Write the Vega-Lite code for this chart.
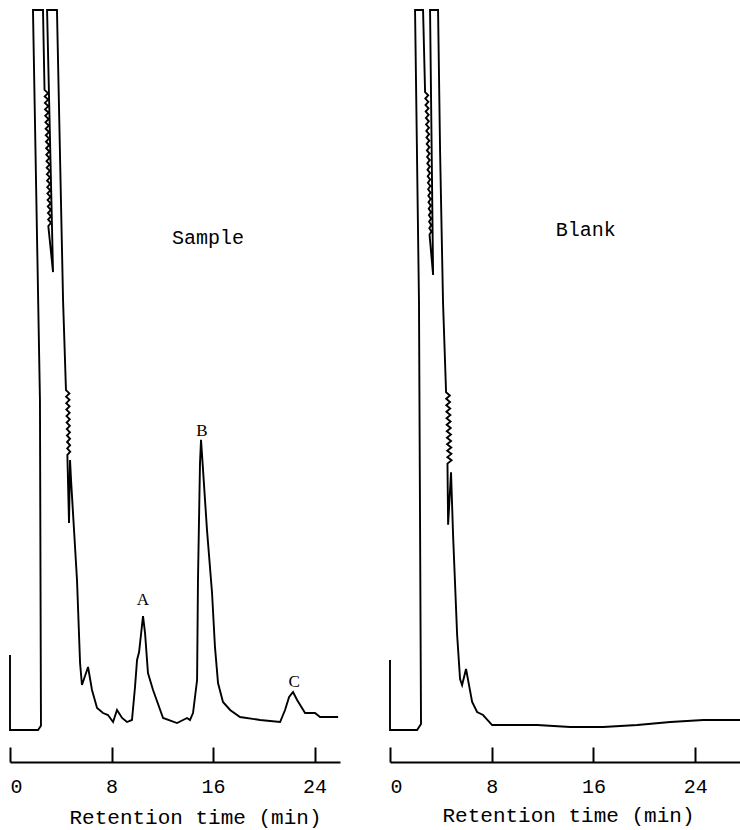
{
  "$schema": "https://vega.github.io/schema/vega-lite/v6.json",
  "padding": {"left": 6, "top": 6, "right": 0, "bottom": 4},
  "background": "white",
  "config": {
    "view": {"stroke": null},
    "axis": {"grid": false},
    "font": "Liberation Mono"
  },
  "datasets": {
    "sample": [
      {"t":0,"s":10.4},{"t":0,"s":0},{"t":2.21,"s":0},{"t":2.44,"s":0.6},{"t":2.36,"s":45.8},{"t":1.81,"s":100},{"t":2.6,"s":100},
      {"t":2.72,"s":88.9},{"t":2.996,"s":88.45},{"t":2.734,"s":88.0},{"t":3.008,"s":87.55},{"t":2.749,"s":87.1},{"t":3.02,"s":86.65},{"t":2.763,"s":86.2},{"t":3.032,"s":85.75},{"t":2.777,"s":85.3},{"t":3.044,"s":84.85},{"t":2.791,"s":84.4},{"t":3.055,"s":83.95},{"t":2.806,"s":83.5},{"t":3.067,"s":83.05},{"t":2.82,"s":82.6},{"t":3.079,"s":82.15},{"t":2.834,"s":81.7},{"t":3.091,"s":81.25},{"t":2.849,"s":80.8},{"t":3.103,"s":80.35},{"t":2.863,"s":79.9},{"t":3.115,"s":79.45},{"t":2.877,"s":79.0},{"t":3.127,"s":78.55},{"t":2.891,"s":78.1},{"t":3.139,"s":77.65},{"t":2.906,"s":77.2},{"t":3.151,"s":76.75},{"t":2.92,"s":76.3},{"t":3.163,"s":75.85},{"t":2.934,"s":75.4},{"t":3.174,"s":74.95},{"t":2.949,"s":74.5},{"t":3.186,"s":74.05},{"t":2.963,"s":73.6},{"t":3.198,"s":73.15},{"t":2.977,"s":72.7},{"t":3.21,"s":72.25},{"t":2.991,"s":71.8},{"t":3.222,"s":71.35},{"t":3.006,"s":70.9},{"t":3.234,"s":70.45},{"t":3.02,"s":70.0},{"t":3.39,"s":63.6},
      {"t":2.92,"s":100},{"t":3.7,"s":100},{"t":4.18,"s":59.7},
      {"t":4.41,"s":47.2},{"t":4.68,"s":46.75},{"t":4.42,"s":46.3},{"t":4.687,"s":45.85},{"t":4.432,"s":45.4},{"t":4.694,"s":44.95},{"t":4.443,"s":44.5},{"t":4.7,"s":44.05},{"t":4.454,"s":43.6},{"t":4.708,"s":43.15},{"t":4.465,"s":42.7},{"t":4.715,"s":42.25},{"t":4.476,"s":41.8},{"t":4.722,"s":41.35},{"t":4.487,"s":40.9},{"t":4.729,"s":40.45},{"t":4.498,"s":40.0},{"t":4.736,"s":39.55},{"t":4.509,"s":39.1},{"t":4.743,"s":38.65},{"t":4.52,"s":38.2},{"t":4.65,"s":28.75},{"t":4.73,"s":37.5},{"t":4.81,"s":34.7},
      {"t":5.28,"s":20.8},{"t":5.52,"s":9.3},{"t":5.67,"s":6.25},{"t":6.15,"s":8.75},{"t":6.46,"s":5.56},{"t":6.86,"s":3.06},{"t":7.33,"s":2.36},{"t":7.72,"s":2.08},{"t":8.12,"s":1.11},{"t":8.43,"s":2.78},{"t":8.83,"s":1.67},{"t":9.22,"s":1.11},{"t":9.61,"s":1.39},{"t":9.85,"s":5.97},{"t":10.01,"s":9.72},{"t":10.17,"s":10.83},{"t":10.48,"s":15.83},{"t":10.64,"s":13.47},{"t":10.87,"s":7.92},{"t":11.27,"s":5.56},{"t":12.06,"s":1.67},{"t":13.16,"s":0.97},{"t":13.95,"s":1.67},{"t":14.18,"s":1.39},{"t":14.42,"s":2.36},{"t":14.74,"s":6.94},{"t":14.81,"s":20.8},{"t":14.97,"s":37.1},{"t":15.05,"s":40.3},{"t":15.21,"s":36.1},{"t":15.52,"s":27.8},{"t":15.92,"s":19.0},{"t":16.15,"s":11.5},{"t":16.39,"s":6.53},{"t":16.78,"s":3.89},{"t":17.34,"s":2.78},{"t":18.12,"s":1.81},{"t":19.7,"s":1.39},{"t":21.28,"s":1.11},{"t":21.67,"s":2.78},{"t":21.99,"s":4.58},{"t":22.3,"s":5.28},{"t":22.62,"s":4.17},{"t":23.25,"s":2.36},{"t":24.03,"s":2.36},{"t":24.43,"s":1.81},{"t":25.85,"s":1.81}
    ],
    "blank": [
      {"t":0,"s":9.72},{"t":0,"s":0},{"t":2.13,"s":0},{"t":2.44,"s":0.83},{"t":2.28,"s":59.4},{"t":1.97,"s":100},{"t":2.6,"s":100},
      {"t":2.76,"s":88.6},{"t":3.006,"s":88.15},{"t":2.776,"s":87.7},{"t":3.018,"s":87.25},{"t":2.792,"s":86.8},{"t":3.03,"s":86.35},{"t":2.808,"s":85.9},{"t":3.041,"s":85.45},{"t":2.824,"s":85.0},{"t":3.053,"s":84.55},{"t":2.84,"s":84.1},{"t":3.065,"s":83.65},{"t":2.855,"s":83.2},{"t":3.077,"s":82.75},{"t":2.871,"s":82.3},{"t":3.089,"s":81.85},{"t":2.887,"s":81.4},{"t":3.1,"s":80.95},{"t":2.903,"s":80.5},{"t":3.112,"s":80.05},{"t":2.919,"s":79.6},{"t":3.124,"s":79.15},{"t":2.935,"s":78.7},{"t":3.136,"s":78.25},{"t":2.951,"s":77.8},{"t":3.148,"s":77.35},{"t":2.967,"s":76.9},{"t":3.16,"s":76.45},{"t":2.983,"s":76.0},{"t":3.171,"s":75.55},{"t":2.999,"s":75.1},{"t":3.183,"s":74.65},{"t":3.015,"s":74.2},{"t":3.195,"s":73.75},{"t":3.03,"s":73.3},{"t":3.207,"s":72.85},{"t":3.046,"s":72.4},{"t":3.219,"s":71.95},{"t":3.062,"s":71.5},{"t":3.23,"s":71.05},{"t":3.078,"s":70.6},{"t":3.242,"s":70.15},{"t":3.094,"s":69.7},{"t":3.254,"s":69.25},{"t":3.11,"s":68.8},{"t":3.39,"s":63.2},
      {"t":3.15,"s":100},{"t":3.78,"s":100},{"t":3.94,"s":80.3},{"t":4.17,"s":59.4},
      {"t":4.41,"s":46.9},{"t":4.707,"s":46.45},{"t":4.42,"s":46.0},{"t":4.72,"s":45.55},{"t":4.43,"s":45.1},{"t":4.734,"s":44.65},{"t":4.44,"s":44.2},{"t":4.748,"s":43.75},{"t":4.45,"s":43.3},{"t":4.761,"s":42.85},{"t":4.46,"s":42.4},{"t":4.775,"s":41.95},{"t":4.47,"s":41.5},{"t":4.789,"s":41.05},{"t":4.48,"s":40.6},{"t":4.802,"s":40.15},{"t":4.49,"s":39.7},{"t":4.816,"s":39.25},{"t":4.5,"s":38.8},{"t":4.83,"s":38.35},{"t":4.51,"s":37.9},{"t":4.843,"s":37.45},{"t":4.52,"s":37.0},{"t":4.57,"s":28.5},{"t":4.8,"s":35.8},
      {"t":4.96,"s":27.1},{"t":5.28,"s":13.2},{"t":5.51,"s":7.08},{"t":5.67,"s":6.25},{"t":5.98,"s":8.47},{"t":6.46,"s":3.89},{"t":6.85,"s":2.5},{"t":7.32,"s":2.08},{"t":8.03,"s":0.69},{"t":11.57,"s":0.69},{"t":14.17,"s":0.42},{"t":16.77,"s":0.42},{"t":19.45,"s":0.69},{"t":22.05,"s":1.11},{"t":24.65,"s":1.39},{"t":27.56,"s":1.39}
    ],
    "sampleTitle": [{"label":"Sample","t":15.6,"s":68.3}],
    "blankTitle": [{"label":"Blank","t":15.4,"s":69.4}],
    "peaks": [
      {"label":"A","t":10.48,"s":18.1},
      {"label":"B","t":15.13,"s":41.5},
      {"label":"C","t":22.38,"s":6.67}
    ]
  },
  "hconcat": [
    {
      "width": 330,
      "height": 752,
      "layer": [
        {
          "data": {"name": "sample"},
          "mark": {"type": "line", "color": "black", "strokeWidth": 1.9, "clip": false},
          "encoding": {
            "x": {"field": "t", "type": "quantitative",
                  "scale": {"domain": [0, 26], "nice": false, "zero": false},
                  "axis": {"values": [0, 8, 16, 24], "title": "Retention time (min)",
                           "domainColor": "black", "domainWidth": 2, "tickColor": "black", "tickWidth": 2,
                           "tickSize": -15, "labelPadding": 29, "labelFont": "Liberation Mono", "labelFontSize": 20,
                           "labelColor": "black", "titleFont": "Liberation Mono", "titleFontSize": 21,
                           "titleFontWeight": "normal", "titleColor": "black",
                           "titleX": 185, "titleY": 61, "titleAlign": "center", "titleBaseline": "alphabetic", "offset": 0}},
            "y": {"field": "s", "type": "quantitative",
                  "scale": {"domain": [-4.444, 100], "nice": false, "zero": false},
                  "axis": null},
            "order": {"value": null}
          }
        },
        {
          "data": {"name": "sampleTitle"},
          "mark": {"type": "text", "font": "Liberation Mono", "fontSize": 20, "color": "black", "baseline": "middle"},
          "encoding": {
            "x": {"field": "t", "type": "quantitative"},
            "y": {"field": "s", "type": "quantitative"},
            "text": {"field": "label"}
          }
        },
        {
          "data": {"name": "peaks"},
          "mark": {"type": "text", "font": "Liberation Serif", "fontSize": 17, "color": "black", "baseline": "middle"},
          "encoding": {
            "x": {"field": "t", "type": "quantitative"},
            "y": {"field": "s", "type": "quantitative"},
            "text": {"field": "label"}
          }
        }
      ]
    },
    {
      "width": 356,
      "height": 752,
      "layer": [
        {
          "data": {"name": "blank"},
          "mark": {"type": "line", "color": "black", "strokeWidth": 1.9, "clip": false},
          "encoding": {
            "x": {"field": "t", "type": "quantitative",
                  "scale": {"domain": [0, 28], "nice": false, "zero": false},
                  "axis": {"values": [0, 8, 16, 24], "title": "Retention time (min)",
                           "domainColor": "black", "domainWidth": 2, "tickColor": "black", "tickWidth": 2,
                           "tickSize": -15, "labelPadding": 29, "labelFont": "Liberation Mono", "labelFontSize": 20,
                           "labelColor": "black", "titleFont": "Liberation Mono", "titleFontSize": 21,
                           "titleFontWeight": "normal", "titleColor": "black",
                           "titleX": 178, "titleY": 59, "titleAlign": "center", "titleBaseline": "alphabetic", "offset": 0}},
            "y": {"field": "s", "type": "quantitative",
                  "scale": {"domain": [-4.444, 100], "nice": false, "zero": false},
                  "axis": null},
            "order": {"value": null}
          }
        },
        {
          "data": {"name": "blankTitle"},
          "mark": {"type": "text", "font": "Liberation Mono", "fontSize": 20, "color": "black", "baseline": "middle"},
          "encoding": {
            "x": {"field": "t", "type": "quantitative"},
            "y": {"field": "s", "type": "quantitative"},
            "text": {"field": "label"}
          }
        }
      ]
    }
  ],
  "spacing": 44
}
